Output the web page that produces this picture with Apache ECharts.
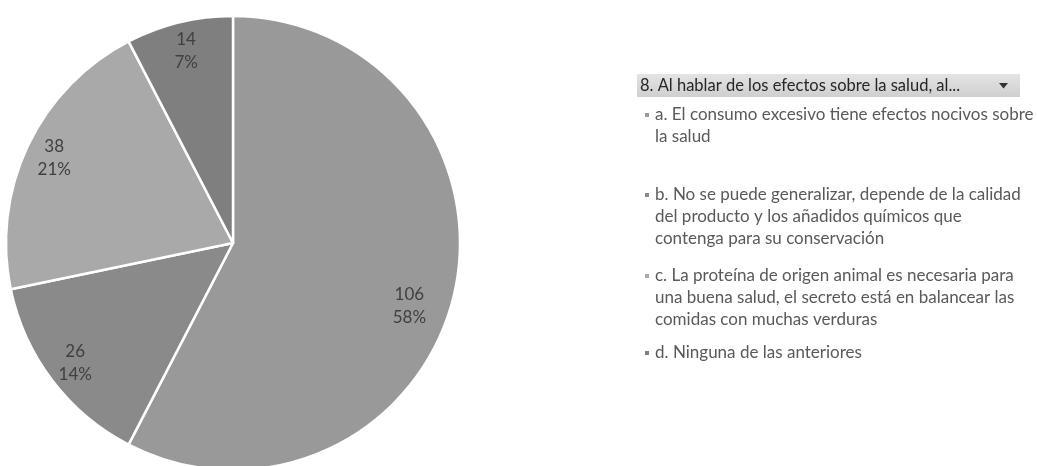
<!DOCTYPE html>
<html>
<head>
<meta charset="utf-8">
<script src="https://cdn.jsdelivr.net/npm/echarts@6/dist/echarts.min.js"></script>
<style>
  html, body { margin: 0; padding: 0; background: #ffffff; }
  #chart { width: 1037px; height: 466px; }
</style>
</head>
<body>
<div id="chart"></div>
<script>
// Survey answers: counts per option
const categoryLines = [
  ['a. El consumo excesivo tiene efectos nocivos sobre', 'la salud'],
  ['b. No se puede generalizar, depende de la calidad', 'del producto y los añadidos químicos que', 'contenga para su conservación'],
  ['c. La proteína de origen animal es necesaria para', 'una buena salud, el secreto está en balancear las', 'comidas con muchas verduras'],
  ['d. Ninguna de las anteriores']
];
const counts = [106, 26, 38, 14];
const sliceColors = ['#999999', '#8a8a8a', '#a9a9a9', '#7f7f7f'];
const filterTitle = '8. Al hablar de los efectos sobre la salud, al...';

const categories = categoryLines.map(l => l.join(' '));
const pieData = categories.map((name, i) => ({
  name: name,
  value: counts[i],
  itemStyle: { color: sliceColors[i] }
}));

const FONT = 'Lato, "Open Sans", sans-serif';
const LINE_H = 22;
const legendCenters = [115, 195, 276, 353];

// one legend block per entry; leading blank lines keep the first text
// line level with the marker (the block is centred on the marker)
const legends = categories.map((name, i) => {
  const n = categoryLines[i].length;
  return {
    data: [name],
    orient: 'vertical',
    left: 643,
    top: legendCenters[i] - (2 * n - 1) * LINE_H / 2,
    padding: 0,
    itemWidth: 6,
    itemHeight: 6,
    icon: 'rect',
    selectedMode: false,
    formatter: () => '\n'.repeat(n - 1) + categoryLines[i].join('\n'),
    textStyle: {
      fontFamily: FONT,
      fontSize: 17,
      color: '#595959',
      lineHeight: LINE_H
    }
  };
});

const chart = echarts.init(document.getElementById('chart'), null, { renderer: 'canvas' });
chart.setOption({
  backgroundColor: '#ffffff',
  animation: false,
  legend: legends,
  series: [
    {
      type: 'pie',
      center: [233, 243],
      radius: [0, 227],
      startAngle: 90,
      clockwise: true,
      data: pieData,
      label: { show: false },
      labelLine: { show: false },
      itemStyle: { borderColor: '#ffffff', borderWidth: 2.5 },
      emphasis: { disabled: true }
    },
    {
      // transparent ring that carries the value labels near the rim
      type: 'pie',
      center: [233, 243],
      radius: [163, 227],
      startAngle: 90,
      clockwise: true,
      silent: true,
      percentPrecision: 0,
      data: pieData.map(d => ({ name: d.name, value: d.value })),
      itemStyle: { color: 'rgba(0,0,0,0)', borderWidth: 0 },
      label: {
        show: true,
        position: 'inside',
        formatter: '{c}\n{d}%',
        fontFamily: FONT,
        fontSize: 17,
        lineHeight: 23,
        color: '#404040'
      },
      // the large slice's label sits a little lower, towards the centre
      labelLayout: p => (p.dataIndex === 0 ? { dx: -16, dy: 16 } : {}),
      labelLine: { show: false },
      emphasis: { disabled: true }
    }
  ],
  graphic: [
    {
      type: 'group',
      left: 637,
      top: 74,
      children: [
        {
          type: 'rect',
          shape: { x: 0, y: 0, width: 383, height: 23 },
          style: {
            fill: new echarts.graphic.LinearGradient(0, 0, 0, 1, [
              { offset: 0, color: '#e4e4e4' },
              { offset: 1, color: '#cfcfcf' }
            ])
          }
        },
        {
          type: 'text',
          x: 3,
          y: 12,
          style: {
            text: filterTitle,
            fontFamily: FONT,
            fontSize: 16.5,
            fill: '#262626',
            verticalAlign: 'middle'
          }
        },
        {
          type: 'polygon',
          shape: { points: [[362, 9], [371, 9], [366.5, 14.5]] },
          style: { fill: '#333333' }
        }
      ]
    }
  ]
});
</script>
</body>
</html>
